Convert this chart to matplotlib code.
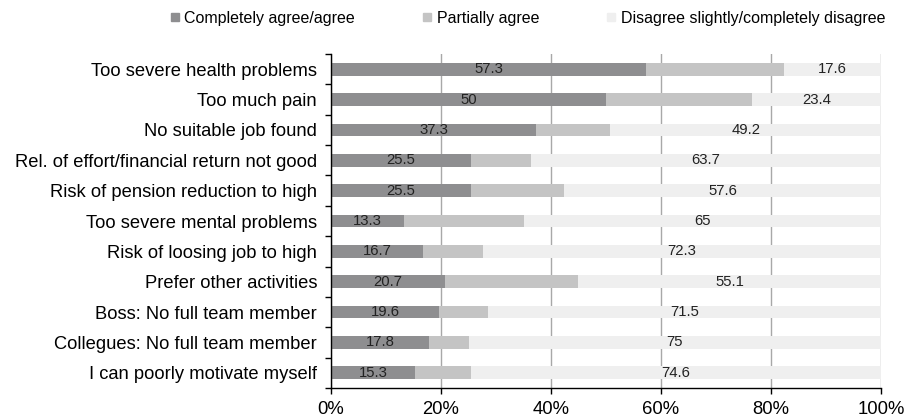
import numpy as np
import matplotlib
matplotlib.use("Agg")
import matplotlib.pyplot as plt
from matplotlib.lines import Line2D

plt.rcParams["font.family"] = ["Liberation Sans", "DejaVu Sans"]

cats = ["Too severe health problems", "Too much pain", "No suitable job found",
        "Rel. of effort/financial return not good", "Risk of pension reduction to high",
        "Too severe mental problems", "Risk of loosing job to high", "Prefer other activities",
        "Boss: No full team member", "Collegues: No full team member", "I can poorly motivate myself"]
agree = [57.3, 50, 37.3, 25.5, 25.5, 13.3, 16.7, 20.7, 19.6, 17.8, 15.3]
partial = [25.1, 26.6, 13.5, 10.8, 16.9, 21.7, 11.0, 24.2, 8.9, 7.2, 10.1]
disagree = [17.6, 23.4, 49.2, 63.7, 57.6, 65, 72.3, 55.1, 71.5, 75, 74.6]
names = ["Completely agree/agree", "Partially agree", "Disagree slightly/completely disagree"]
cols = ["#8e8e90", "#c4c4c4", "#efefef"]

fig = plt.figure(figsize=(9.05, 4.19), dpi=100)
ax = fig.add_axes([331/905, 1-388/419, 550/905, 334/419])

y = np.arange(len(cats))
h = 0.42
a = np.array(agree)
p = np.array(partial)
d = np.array(disagree)
b1 = ax.barh(y, a, height=h, color=cols[0], zorder=2)
b2 = ax.barh(y, p, left=a, height=h, color=cols[1], zorder=2)
b3 = ax.barh(y, d, left=a+p, height=h, color=cols[2], zorder=2)
ax.bar_label(b1, labels=["{:g}".format(v) for v in agree], label_type="center", fontsize=10.7, color="#222222")
ax.bar_label(b3, labels=["{:g}".format(v) for v in disagree], label_type="center", fontsize=10.7, color="#222222")

ax.set_xlim(0, 100)
ax.set_ylim(len(cats)-0.5, -0.5)
ax.set_xticks([0, 20, 40, 60, 80, 100])
ax.set_xticklabels(["0%", "20%", "40%", "60%", "80%", "100%"], fontsize=13.3)
ax.set_yticks(y)
ax.set_yticklabels(cats, fontsize=13.25)
ax.set_yticks(np.arange(len(cats)+1)-0.5, minor=True)
ax.tick_params(axis="y", which="major", length=0, pad=10)
ax.tick_params(axis="y", which="minor", length=4, width=1, direction="out")
ax.tick_params(axis="x", which="major", length=4, width=1, direction="out", pad=5)
ax.grid(axis="x", color="#a8a8a8", linewidth=1, zorder=0)
ax.set_axisbelow(True)
for s in ["top", "right"]:
    ax.spines[s].set_visible(False)
for s in ["left", "bottom"]:
    ax.spines[s].set_color("black")
    ax.spines[s].set_linewidth(1)

handles = [Line2D([], [], marker="s", linestyle="none", markersize=6, color=c) for c in cols]
fig.legend(handles, names, loc="center", bbox_to_anchor=(0.583, 1-18/419), ncol=3,
           frameon=False, fontsize=11.5, handlelength=0.6, handletextpad=0.3,
           columnspacing=4.2, borderpad=0)

fig.savefig("out.png", dpi=100)
